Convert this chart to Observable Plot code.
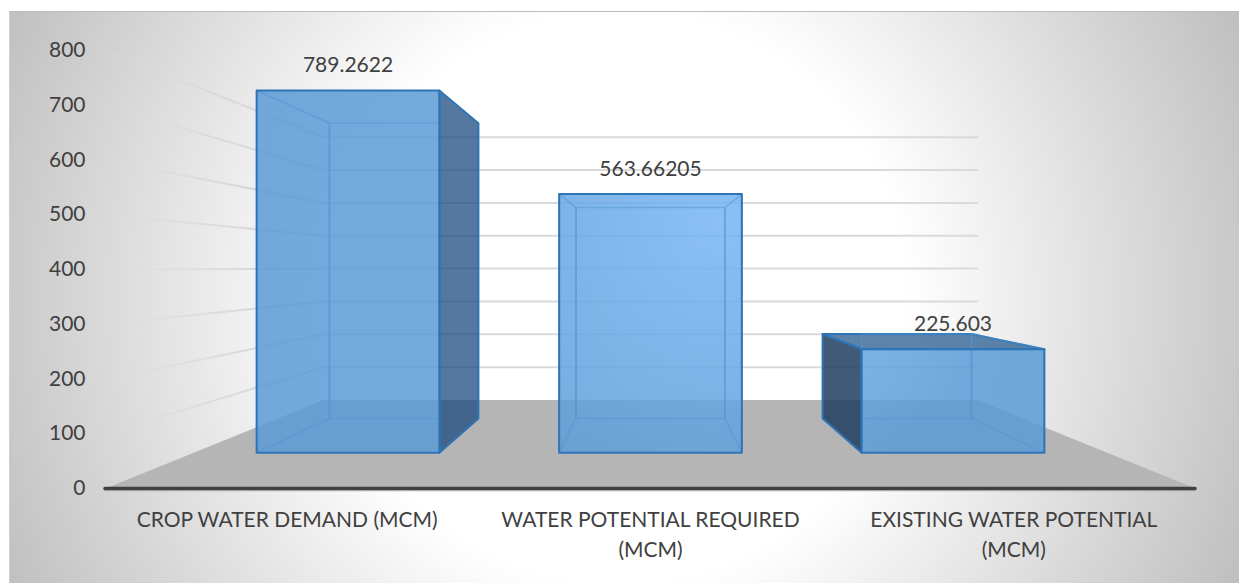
<!DOCTYPE html>
<html>
<head>
<meta charset="utf-8">
<script src="https://cdn.jsdelivr.net/npm/d3@7"></script>
<script src="https://cdn.jsdelivr.net/npm/@observablehq/plot@0.6"></script>
<style>
html,body{margin:0;padding:0;background:#fff;width:1239px;height:583px;overflow:hidden}
#bg{position:absolute;left:9px;top:11px;width:1230px;height:572px;box-sizing:border-box;
border-top:1px solid #bdbdbd;border-left:1px solid #cfcfcf;
background:radial-gradient(circle 680px at 610px 285px,#fff 42%,#bfbfbf 100%)}
#chart{position:absolute;left:0;top:0}
</style>
</head>
<body>
<div id="bg"></div>
<div id="chart"></div>
<script>
const categories = ["CROP WATER DEMAND (MCM)", "WATER POTENTIAL REQUIRED\n(MCM)", "EXISTING WATER POTENTIAL\n(MCM)"];
const values = [789.2622, 563.66205, 225.603];
const valueLabels = ["789.2622", "563.66205", "225.603"];
const yTicks = [0, 100, 200, 300, 400, 500, 600, 700, 800];
const slots = [0.5, 1.5, 2.5];

// Perspective model of the 3-D chart, in data units.
const vanishX = 1.5, vanishV = 404;
const wallDepth = 0.6, barFront = 0.838, barBack = 0.683, halfBar = 0.3, slotSpread = 0.9935;
const px = (x, s) => vanishX + s * (x - vanishX);
const pv = (v, s) => vanishV + s * (v - vanishV);
const vert = (x, v, s) => ({x: px(x, s), y: pv(v, s)});
const slotX = i => vanishX + slotSpread * (slots[i] - vanishX);

const FONT = "Lato, Carlito, sans-serif";
const INK = "#404040";
const SIZE = 21;

const poly = (pts, opts) => Plot.line(pts, {x: "x", y: "y", curve: "linear-closed", ...opts});

const floor = [vert(0,0,1), vert(3,0,1), vert(3,0,wallDepth), vert(0,0,wallDepth)];

const backGrid = yTicks.slice(1).flatMap(t => [
  {t, ...vert(0,t,wallDepth)}, {t, ...vert(3,t,wallDepth)}
]);
const sideGrid = yTicks.slice(1).flatMap(t => [
  {t, ...vert(0,t,1)}, {t, ...vert(0,t,wallDepth)}
]);

const defs = () => d3.create("svg:defs").html(`
  <radialGradient id="barGlow" gradientUnits="userSpaceOnUse" cx="720" cy="220" r="290">
    <stop offset="0" stop-color="#77b5f3"/><stop offset="1" stop-color="#5b9bd5"/>
  </radialGradient>
  <linearGradient id="wallFade" gradientUnits="userSpaceOnUse" x1="105" y1="0" x2="260" y2="0">
    <stop offset="0" stop-color="#dcdcdc" stop-opacity="0.2"/><stop offset="1" stop-color="#d6d6d6" stop-opacity="1"/>
  </linearGradient>`).node();

const barMarks = values.flatMap((v, i) => {
  const a = slotX(i) - halfBar, b = slotX(i) + halfBar;
  const F = barFront, B = barBack;
  const fl = px(a,F), fr = px(b,F);
  const clampX = p => ({...p, x: Math.min(fr, Math.max(fl, p.x))});
  const front = [vert(a,0,F), vert(b,0,F), vert(b,v,F), vert(a,v,F)];
  // the back rectangle only shows through the front pane
  const back = [vert(a,0,B), vert(b,0,B), vert(b,v,B), vert(a,v,B)].map(clampX);
  const left = [vert(a,0,F), vert(a,0,B), vert(a,v,B), vert(a,v,F)];
  const right = [vert(b,0,F), vert(b,0,B), vert(b,v,B), vert(b,v,F)];
  const top = [vert(a,v,F), vert(b,v,F), vert(b,v,B), vert(a,v,B)];
  const edge = {stroke: "#2e75b6", strokeWidth: 2, strokeLinejoin: "round"};
  const inner = {stroke: "#4f95d6", strokeWidth: 1.5, strokeOpacity: 0.5, fill: "none"};
  const under = [];
  const over = [];
  // faces that stick out past the front rectangle read as dark glass
  if (px(a,B) < px(a,F)) under.push(poly(left, {fill: "#1e3d60", fillOpacity: 0.85, ...edge}));
  else over.push(poly(left, inner));
  if (px(b,B) > px(b,F)) under.push(poly(right, {fill: "#1c4b80", fillOpacity: 0.75, ...edge}));
  else over.push(poly(right, inner));
  if (pv(v,B) > pv(v,F)) under.push(poly(top, {fill: "#336595", fillOpacity: 0.8, ...edge}));
  over.push(poly(back, inner));
  return [
    ...under,
    poly(front, {fill: "url(#barGlow)", fillOpacity: 0.85, stroke: "none"}),
    ...over,
    poly(front, {fill: "none", ...edge})
  ];
});

const chart = Plot.plot({
  width: 1239, height: 583,
  marginLeft: 105, marginRight: 44, marginTop: 50, marginBottom: 95,
  style: {background: "transparent", fontFamily: FONT},
  x: {domain: [0, 3], axis: null},
  y: {domain: [0, 800], axis: null},
  marks: [
    defs,
    Plot.line(sideGrid, {x: "x", y: "y", z: "t", stroke: "url(#wallFade)", strokeWidth: 2}),
    Plot.line(backGrid, {x: "x", y: "y", z: "t", stroke: "#dadada", strokeWidth: 2}),
    poly(floor, {fill: "#b5b5b5", stroke: "none"}),
    Plot.ruleY([0], {x1: 0, x2: 3, dy: 2, stroke: "#a8a8a8", strokeOpacity: 0.5, strokeWidth: 2, strokeLinecap: "round"}),
    Plot.ruleY([0], {x1: 0, x2: 3, stroke: INK, strokeWidth: 3.5, strokeLinecap: "round"}),
    ...barMarks,
    Plot.axisY({ticks: yTicks, anchor: "left", tickSize: 0, tickPadding: 20, label: null, fontSize: SIZE, color: INK, fontFamily: FONT}),
    Plot.text(categories, {
      x: (d, i) => slots[i], y: () => 0, text: d => d, dy: 17,
      lineAnchor: "top", lineHeight: 1.43, fontSize: SIZE, fill: INK, fontFamily: FONT
    }),
    Plot.text(values, {
      x: (d, i) => px(slotX(i), barFront), y: (d) => pv(d, barFront),
      text: (d, i) => valueLabels[i], dy: -25, fontSize: SIZE, fill: INK, fontFamily: FONT
    })
  ]
});
document.getElementById("chart").append(chart);
</script>
</body>
</html>
